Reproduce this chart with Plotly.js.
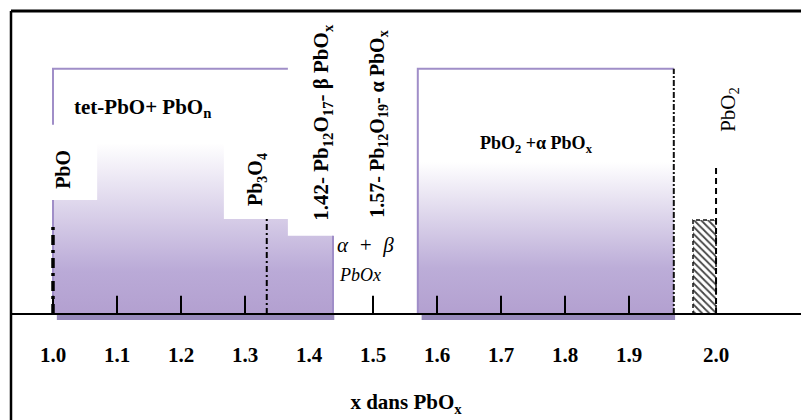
<!DOCTYPE html>
<html>
<head>
<meta charset="utf-8">
<script src="https://cdn.plot.ly/plotly-3.0.1.min.js"></script>
<style>html,body{margin:0;padding:0;background:#fff;}#chart{width:801px;height:420px;}</style>
</head>
<body>
<div id="chart"></div>
<script>
// ---- data ----
const tickPositions = [1.0, 1.1, 1.2, 1.3, 1.4, 1.5, 1.6, 1.7, 1.8, 1.9, 2.036];
const tickLabels = ['1.0', '1.1', '1.2', '1.3', '1.4', '1.5', '1.6', '1.7', '1.8', '1.9', '2.0'];
const tickMarkPositions = [1.0, 1.1, 1.2, 1.3, 1.5, 1.6, 1.7, 1.8, 1.9];
const tickMarkHeight = [0.6];

// left domain (tet-PbO + PbOn): step edges along x and the top of each step
const leftStepX = [1.0, 1.069, 1.267, 1.367, 1.4375];
const leftStepTop = [3.75, 5.62, 3.12, 2.57];
const leftBracketX = [1.0, 1.367];
const leftBracketY = [6.22, 8.06];

// right domain (PbO2 + alpha PbOx)
const rightDomainX = [1.57, 1.97];
const rightDomainTop = [8.06];
const rightGradientTop = [5.0];

// vertical composition lines
const lineNames = ['PbO', 'Pb3O4', 'alpha-PbOx limit', 'PbO2'];
const lineX = [1.0, 1.334, 1.97, 2.036];
const lineTop = [2.93, 3.12, 8.06, 4.87];

// hatched PbO2 box
const pbo2BoxX = [2.0, 2.036];
const pbo2BoxTop = [3.09];

// ---- traces ----
const purple = '#b3a0d0';
const outline = '#a08ec8';
const shadow = '#978abb';
const traces = [];

// shadows
traces.push({x:[leftStepX[0]+0.006, leftStepX[4]+0.002, leftStepX[4]+0.002, leftStepX[0]+0.006],
  y:[-0.2,-0.2,0,0], fill:'toself', mode:'lines', line:{width:0}, fillcolor:shadow, hoverinfo:'skip'});
traces.push({x:[rightDomainX[0]+0.006, rightDomainX[1]+0.002, rightDomainX[1]+0.002, rightDomainX[0]+0.006],
  y:[-0.2,-0.2,0,0], fill:'toself', mode:'lines', line:{width:0}, fillcolor:shadow, hoverinfo:'skip'});

// left stepped domain
const lx = [leftStepX[0]], ly = [0];
for (let i = 0; i < leftStepTop.length; i++) {
  lx.push(leftStepX[i], leftStepX[i+1]);
  ly.push(leftStepTop[i], leftStepTop[i]);
}
lx.push(leftStepX[leftStepX.length-1], leftStepX[0]);
ly.push(0, 0);
traces.push({x:lx, y:ly, mode:'lines', fill:'toself', line:{width:0}, hoverinfo:'skip',
  fillgradient:{type:'vertical', start:0, stop:Math.max(...leftStepTop),
    colorscale:[[0, purple],[0.25,'#baaad7'],[1,'#ffffff']]}});

// right domain
traces.push({x:[rightDomainX[0], rightDomainX[1], rightDomainX[1], rightDomainX[0], rightDomainX[0]],
  y:[0, 0, rightDomainTop[0], rightDomainTop[0], 0], mode:'lines', fill:'toself', line:{width:0}, hoverinfo:'skip',
  fillgradient:{type:'vertical', start:0, stop:rightGradientTop[0],
    colorscale:[[0, purple],[0.3,'#bcadd8'],[1,'#ffffff']]}});

// purple outlines
traces.push({x:[leftStepX[0], leftStepX[0], null, leftBracketX[0], leftBracketX[0], leftBracketX[1], null, leftStepX[4], leftStepX[4]],
  y:[0, leftStepTop[0], null, leftBracketY[0], leftBracketY[1], leftBracketY[1], null, 0, leftStepTop[3]],
  mode:'lines', line:{color:outline, width:2}, hoverinfo:'skip'});
traces.push({x:[rightDomainX[0], rightDomainX[0], rightDomainX[1]],
  y:[0, rightDomainTop[0], rightDomainTop[0]],
  mode:'lines', line:{color:outline, width:2}, hoverinfo:'skip'});

// hatched PbO2 box
traces.push({x:[pbo2BoxX[0], pbo2BoxX[1], pbo2BoxX[1], pbo2BoxX[0], pbo2BoxX[0]],
  y:[0, 0, pbo2BoxTop[0], pbo2BoxTop[0], 0], mode:'lines', fill:'toself',
  line:{color:'#111', width:1.5, dash:'4px,3px'}, hoverinfo:'skip',
  fillcolor:'#ffffff',
  fillpattern:{shape:'\\', fgcolor:'#444', bgcolor:'#ffffff', size:5, solidity:0.35}});

// tick marks
const tx = [], ty = [];
tickMarkPositions.forEach(t => { tx.push(t, t, null); ty.push(0, tickMarkHeight[0], null); });
traces.push({x:tx, y:ty, mode:'lines', line:{color:'#000', width:2}, hoverinfo:'skip'});

// vertical composition lines
const lineStyles = [
  {color:'#000', width:3.5, dash:'10px,5px,3px,5px'},
  {color:'#000', width:2, dash:'6px,3px,2px,3px'},
  {color:'#111', width:2, dash:'6px,2px,2px,2px'},
  {color:'#000', width:2, dash:'6px,4px'}
];
lineX.forEach((x, i) => {
  traces.push({x:[x, x], y:[0, lineTop[i]], mode:'lines', name:lineNames[i], line:lineStyles[i], hoverinfo:'skip'});
});

const serif = '"Liberation Serif", "Times New Roman", Times, serif';
const ann = (x, y, text, size, extra) => Object.assign({x, y, xref:'x', yref:'y', text, showarrow:false,
  xanchor:'center', yanchor:'middle', font:{family:serif, size, color:'#000'}}, extra || {});

const layout = {
  width: 801, height: 420,
  margin: {l: 11, r: 0, t: 11, b: 97},
  paper_bgcolor: '#fff', plot_bgcolor: '#fff',
  showlegend: false,
  font: {family: serif},
  xaxis: {
    range: [0.934375, 2.16875], showgrid: false, zeroline: false, showline: false,
    tickmode: 'array', tickvals: tickPositions, ticktext: tickLabels, ticks: '',
    ticklabelstandoff: 17,
    tickfont: {family: serif, size: 21, color: '#000', weight: 'bold'},
    title: {text: 'x dans PbO<sub>x</sub>', standoff: 28,
      font: {family: serif, size: 21, color: '#000', weight: 'bold'}},
    fixedrange: true
  },
  yaxis: {range: [-0.3, 9.963], showgrid: false, zeroline: false, showline: false,
    showticklabels: false, ticks: '', fixedrange: true},
  shapes: [
    {type:'line', xref:'paper', yref:'y', x0:0, x1:1, y0:0, y1:0, line:{color:'#000', width:2}, layer:'above'},
    {type:'line', xref:'paper', yref:'paper', x0:0, x1:1, y0:1, y1:1, line:{color:'#000', width:3}, layer:'above'},
    {type:'line', xref:'paper', yref:'paper', x0:0, x1:0, y0:1, y1:-0.35, line:{color:'#000', width:2.5}, layer:'above'}
  ],
  annotations: [
    ann(1.1406, 6.78, '<b>tet-PbO+ PbO<sub>n</sub></b>', 21),
    ann(1.0156, 4.77, '<b>PbO</b>', 20, {textangle:-90}),
    ann(1.319, 4.41, '<b>Pb<sub>3</sub>O<sub>4</sub></b>', 20, {textangle:-90}),
    ann(1.4203, 6.32, '<b>1.42- Pb<sub>12</sub>O<sub>17</sub>- β PbO<sub>x</sub></b>', 21, {textangle:-90}),
    ann(1.509, 6.25, '<b>1.57- Pb<sub>12</sub>O<sub>19</sub>- α PbO<sub>x</sub></b>', 20, {textangle:-90}),
    ann(1.4875, 2.27, '<i>α  +  β</i>', 21),
    ann(1.48, 1.28, '<i>PbOx</i>', 18),
    ann(1.7547, 5.56, '<b>PbO<sub>2</sub> +α PbO<sub>x</sub></b>', 18),
    ann(2.056, 6.74, 'PbO<sub>2</sub>', 21, {textangle:-90})
  ]
};

Plotly.newPlot('chart', traces, layout, {staticPlot: true, displayModeBar: false});
</script>
</body>
</html>
